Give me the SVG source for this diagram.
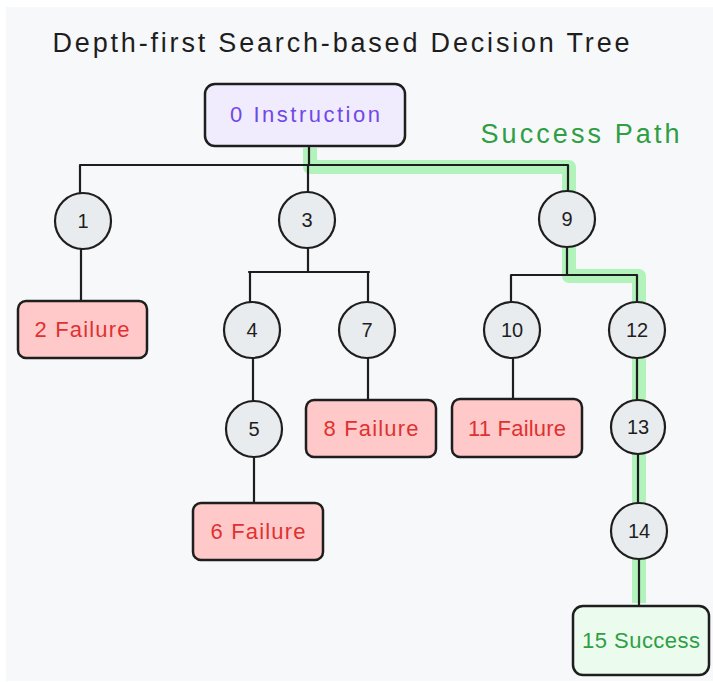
<svg xmlns="http://www.w3.org/2000/svg" width="713" height="682" viewBox="0 0 713 682">
<style>
.t{font-family:"Liberation Sans","Noto Sans",sans-serif;}
.c{fill:#e9ecef;stroke:#1e1e1e;stroke-width:2.2;}
.fail{fill:#ffc9c9;stroke:#1e1e1e;stroke-width:2.5;}
.ft{fill:#e03131;font-size:22px;text-anchor:middle;}
.nt{fill:#1e1e1e;font-size:20px;text-anchor:middle;}
.ln{stroke:#1e1e1e;stroke-width:2.2;fill:none;stroke-linecap:round;}
</style>
<rect x="0" y="0" width="713" height="682" fill="#ffffff"/>
<rect x="6" y="7" width="707" height="674" fill="#f7f8fa"/>
<text class="t" x="341" y="52" font-size="27" fill="#1e1e1e" text-anchor="middle" textLength="577">Depth-first Search-based Decision Tree</text>
<text class="t" x="580" y="143" font-size="27" fill="#2f9e44" text-anchor="middle" textLength="199">Success Path</text>
<g id="highlight">
<path d="M310,148 V167 H569 V276 H639 V603" fill="none" stroke="#b2f2bb" stroke-width="14" stroke-linejoin="round"/>
</g>
<g id="connectors">
<path class="ln" d="M309,146 V165 M80,165 H568 M80,165 V193 M308,165 V192 M568,165 V191"/>
<path class="ln" d="M81,249 V301"/>
<path class="ln" d="M308,248 V272 M249,272 H369 M250,272 V302 M368,272 V302"/>
<path class="ln" d="M567,247 V275 M511,275 H637 M511,275 V302 M637,275 V302"/>
<path class="ln" d="M253,358 V401 M254,457 V503 M368,358 V400 M513,358 V399"/>
<path class="ln" d="M637,358 V400 M638,454 V503 M639,559 V606"/>
</g>
<g id="n0"><rect x="205" y="84" width="200" height="62" rx="10" fill="#f0ecfe" stroke="#1e1e1e" stroke-width="2.5"/><text class="t" x="305" y="122" font-size="22" fill="#7048e8" text-anchor="middle" textLength="150">0 Instruction</text></g>
<g id="n1"><circle class="c" cx="83" cy="221" r="28"/><text class="t nt" x="83" y="228">1</text></g>
<g id="n3"><circle class="c" cx="307" cy="220" r="28"/><text class="t nt" x="307" y="227">3</text></g>
<g id="n9"><circle class="c" cx="567" cy="219" r="28"/><text class="t nt" x="567" y="226">9</text></g>
<g id="n4"><circle class="c" cx="252" cy="330" r="28"/><text class="t nt" x="252" y="337">4</text></g>
<g id="n7"><circle class="c" cx="367" cy="330" r="28"/><text class="t nt" x="367" y="337">7</text></g>
<g id="n10"><circle class="c" cx="512" cy="330" r="28"/><text class="t nt" x="512" y="337">10</text></g>
<g id="n12"><circle class="c" cx="637" cy="330" r="28"/><text class="t nt" x="637" y="337">12</text></g>
<g id="n5"><circle class="c" cx="254" cy="429" r="28"/><text class="t nt" x="254" y="436">5</text></g>
<g id="n13"><circle class="c" cx="638" cy="427" r="27"/><text class="t nt" x="638" y="434">13</text></g>
<g id="n14"><circle class="c" cx="639" cy="531" r="28"/><text class="t nt" x="639" y="538">14</text></g>
<g id="n2"><rect class="fail" x="18" y="301" width="129" height="57" rx="8"/><text class="t ft" x="82" y="337" textLength="95">2 Failure</text></g>
<g id="n8"><rect class="fail" x="306" y="400" width="130" height="57" rx="8"/><text class="t ft" x="371" y="436" textLength="95">8 Failure</text></g>
<g id="n11"><rect class="fail" x="452" y="399" width="130" height="58" rx="8"/><text class="t ft" x="517" y="436" textLength="98">11 Failure</text></g>
<g id="n6"><rect class="fail" x="193" y="503" width="130" height="57" rx="8"/><text class="t ft" x="258" y="539" textLength="95">6 Failure</text></g>
<g id="n15"><rect x="573" y="606" width="136" height="69" rx="10" fill="#ebfbee" stroke="#1e1e1e" stroke-width="2.5"/><text class="t" x="641" y="648" font-size="22" fill="#2f9e44" text-anchor="middle" textLength="118">15 Success</text></g>
</svg>
